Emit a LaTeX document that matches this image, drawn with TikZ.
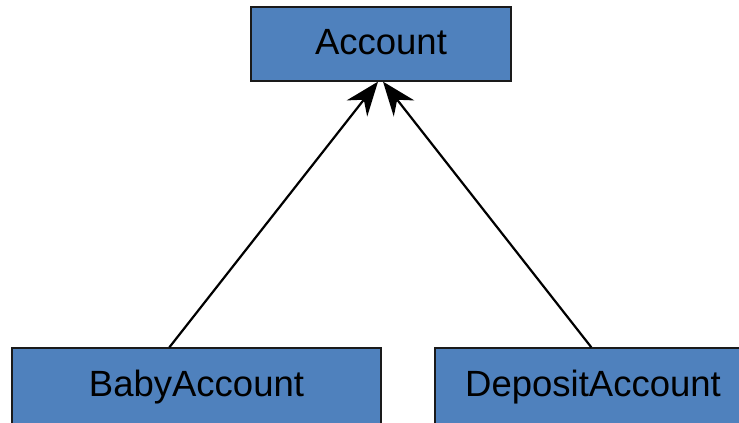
\documentclass[tikz,border=0pt]{standalone}
\usepackage{fontspec}
\setmainfont{Liberation Sans}
\usetikzlibrary{arrows.meta,calc}
\definecolor{classblue}{HTML}{4F81BD}
\definecolor{edgedark}{HTML}{1A1A1A}
\tikzset{
  classbox/.style={draw=edgedark, line width=1.3pt, fill=classblue,
    minimum height=74pt, inner sep=0pt,
    font=\fontsize{36.5}{40}\selectfont},
  inherit/.style={line width=2.2pt, -{Stealth[length=34pt,width=26pt,inset=11pt]}}
}
\begin{document}
\begin{tikzpicture}[x=1pt,y=-1pt]
  \path[use as bounding box, clip] (0,0) rectangle (739,423);
  \node[classbox, minimum width=260pt] (account) at (381,44) {\raisebox{4pt}{Account}};
  % the lower boxes run past the bottom edge
  \node[classbox, minimum width=369pt, minimum height=84pt] (baby) at (196.5,390) {\raisebox{14pt}{BabyAccount}};
  \node[classbox, minimum width=316pt, minimum height=84pt] (deposit) at (593,390) {\raisebox{14pt}{DepositAccount}};
  \draw[inherit] ([xshift=158pt]baby.north west) -- ([xshift=-3pt]account.south);
  \draw[inherit] ([xshift=157pt]deposit.north west) -- ([xshift=2pt]account.south);
\end{tikzpicture}
\end{document}
